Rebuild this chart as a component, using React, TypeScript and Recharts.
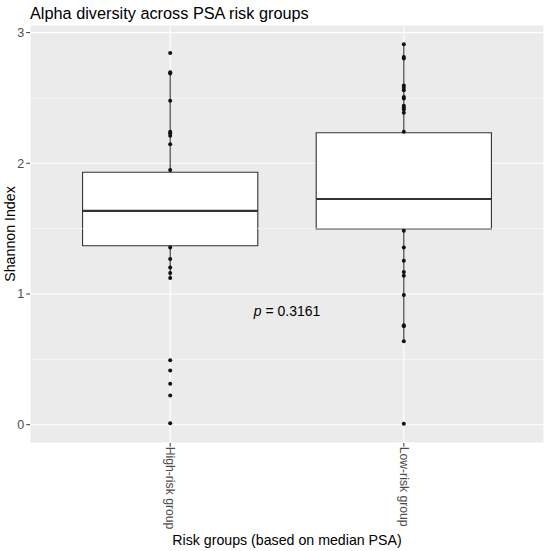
import {
  ComposedChart,
  CartesianGrid,
  XAxis,
  YAxis,
  Scatter,
  ReferenceArea,
  ReferenceLine,
  ReferenceDot,
} from 'recharts';

const categories = ['High-risk group', 'Low-risk group'];

// Shannon index of each sample that is visible in the picture
const highRiskValues = [
  2.844, 2.697, 2.687, 2.478, 2.241, 2.229, 2.211, 2.145, 1.949, 1.356, 1.267, 1.203, 1.16,
  1.122, 0.493, 0.415, 0.313, 0.224, 0.012,
];
const lowRiskValues = [
  2.911, 2.814, 2.802, 2.595, 2.577, 2.559, 2.508, 2.496, 2.44, 2.427, 2.412, 2.386, 2.241,
  1.483, 1.356, 1.254, 1.168, 1.14, 0.992, 0.76, 0.753, 0.638, 0.008,
];

// box statistics per group
const q1 = [1.369, 1.498];
const medians = [1.636, 1.727];
const q3 = [1.931, 2.234];
const whiskerLow = [1.122, 0.638];
const whiskerHigh = [2.695, 2.911];

const yTicks = [0, 1, 2, 3];
const minorTicks = [0.5, 1.5, 2.5];
const pValue = '0.3161';

const FONT = '"Liberation Sans", Arial, sans-serif';
const BOX_HALF = 0.375;

const highPoints = highRiskValues.map((v) => ({ x: 1, y: v }));
const lowPoints = lowRiskValues.map((v) => ({ x: 2, y: v }));

const Dot = (props: any) => <circle cx={props.cx} cy={props.cy} r={2} fill="#111" />;

const XTick = (props: any) => {
  const { x, y, payload } = props;
  return (
    <text
      x={x}
      y={y}
      transform={`rotate(90, ${x}, ${y})`}
      dy="0.35em"
      textAnchor="start"
      fontSize={12.2}
      fontFamily={FONT}
      fill="#4D4D4D"
    >
      {categories[payload.value - 1]}
    </text>
  );
};

export default function App() {
  return (
    <div style={{ position: 'absolute', left: 0, top: 0, width: 550, height: 551, background: '#fff' }}>
      <div
        style={{
          position: 'absolute',
          left: 30,
          top: 5,
          fontFamily: FONT,
          fontSize: 16.3,
          lineHeight: '16px',
          color: '#000',
          whiteSpace: 'nowrap',
        }}
      >
        Alpha diversity across PSA risk groups
      </div>
      <ComposedChart width={550} height={551} margin={{ top: 25, right: 6, bottom: 0, left: 0 }}>
        <CartesianGrid fill="#EBEBEB" stroke="#FFFFFF" strokeWidth={1.1} />
        {minorTicks.map((t) => (
          <ReferenceLine key={`minor-${t}`} y={t} stroke="#FFFFFF" strokeWidth={0.55} />
        ))}
        <XAxis
          type="number"
          dataKey="x"
          domain={[0.4, 2.6]}
          ticks={[1, 2]}
          allowDataOverflow
          height={108}
          axisLine={false}
          tickLine={{ stroke: '#333333', strokeWidth: 1 }}
          tickSize={3.7}
          tickMargin={0}
          tick={<XTick />}
          label={{
            content: (p: any) => (
              <text
                x={p.viewBox.x + p.viewBox.width / 2}
                y={545}
                textAnchor="middle"
                fontSize={14.2}
                fontFamily={FONT}
                fill="#000"
              >
                Risk groups (based on median PSA)
              </text>
            ),
          }}
        />
        <YAxis
          type="number"
          dataKey="y"
          domain={[-0.14, 3.058]}
          ticks={yTicks}
          allowDataOverflow
          width={30}
          axisLine={false}
          tickLine={{ stroke: '#333333', strokeWidth: 1 }}
          tickSize={3.7}
          tickMargin={2}
          tick={{ fontSize: 12.5, fontFamily: FONT, fill: '#4D4D4D' }}
          label={{
            content: (p: any) => {
              const cy = p.viewBox.y + p.viewBox.height / 2;
              return (
                <text
                  x={15}
                  y={cy}
                  transform={`rotate(-90, 15, ${cy})`}
                  textAnchor="middle"
                  fontSize={14.2}
                  fontFamily={FONT}
                  fill="#000"
                >
                  Shannon Index
                </text>
              );
            },
          }}
        />
        {categories.map((c, i) => (
          <ReferenceLine
            key={`wl-${c}`}
            segment={[
              { x: i + 1, y: whiskerLow[i] },
              { x: i + 1, y: q1[i] },
            ]}
            stroke="#333333"
            strokeWidth={1.1}
          />
        ))}
        {categories.map((c, i) => (
          <ReferenceLine
            key={`wh-${c}`}
            segment={[
              { x: i + 1, y: q3[i] },
              { x: i + 1, y: whiskerHigh[i] },
            ]}
            stroke="#333333"
            strokeWidth={1.1}
          />
        ))}
        <Scatter data={highPoints} dataKey="y" shape={<Dot />} isAnimationActive={false} />
        <Scatter data={lowPoints} dataKey="y" shape={<Dot />} isAnimationActive={false} />
        {categories.map((c, i) => (
          <ReferenceArea
            key={`box-${c}`}
            x1={i + 1 - BOX_HALF}
            x2={i + 1 + BOX_HALF}
            y1={q1[i]}
            y2={q3[i]}
            fill="#FFFFFF"
            fillOpacity={1}
            stroke="#333333"
            strokeWidth={1.1}
          />
        ))}
        {categories.map((c, i) => (
          <ReferenceLine
            key={`med-${c}`}
            segment={[
              { x: i + 1 - BOX_HALF, y: medians[i] },
              { x: i + 1 + BOX_HALF, y: medians[i] },
            ]}
            stroke="#333333"
            strokeWidth={2.1}
          />
        ))}
        <ReferenceDot
          x={1.5}
          y={0.87}
          r={1}
          shape={() => <g />}
          label={{
            content: (p: any) => {
              const cx = p.viewBox.x + p.viewBox.width / 2;
              const cy = p.viewBox.y + p.viewBox.height / 2;
              return (
                <text x={cx} y={cy + 5} textAnchor="middle" fontSize={14} fontFamily={FONT} fill="#000">
                  <tspan fontStyle="italic">p</tspan>
                  <tspan> = {pValue}</tspan>
                </text>
              );
            },
          }}
        />
      </ComposedChart>
    </div>
  );
}
